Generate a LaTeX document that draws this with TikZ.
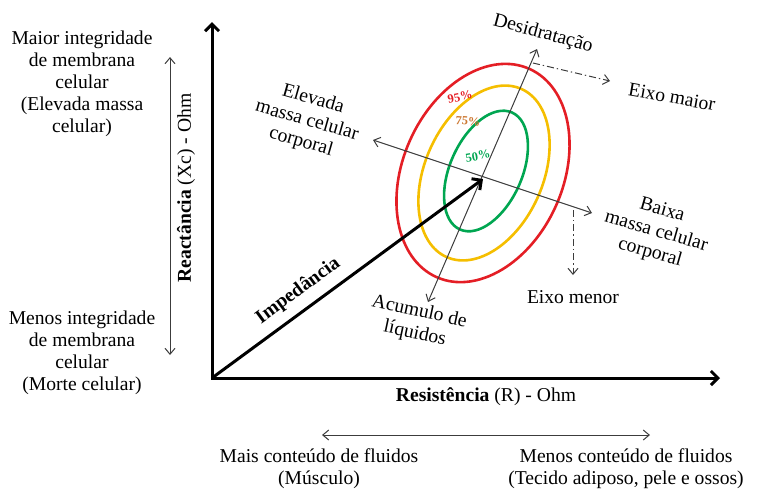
\documentclass[tikz,border=0pt]{standalone}
\usepackage{fontspec}
\setmainfont{Liberation Serif}
\usetikzlibrary{arrows.meta}
\definecolor{ered}{RGB}{228,30,37}
\definecolor{eyel}{RGB}{245,190,0}
\definecolor{egrn}{RGB}{0,166,81}
\definecolor{eorg}{RGB}{204,120,50}
\definecolor{thinc}{RGB}{60,60,60}
\begin{document}
\begin{tikzpicture}[x=0.5pt,y=-0.5pt,
  font=\fontsize{9.8pt}{11pt}\selectfont,
  mainaxis/.style={line width=1.5pt,{Straight Barb[length=3.5pt,width=7pt]}-{Straight Barb[length=3.5pt,width=7pt]}},
  impline/.style={line width=1.5pt,-{Straight Barb[length=3.5pt,width=7pt]}},
  thinline/.style={thinc,line width=0.5pt,{Straight Barb[length=3pt,width=5pt]}-{Straight Barb[length=3pt,width=5pt]}},
  dashdotline/.style={thinc,line width=0.5pt,dash pattern=on 3.5pt off 1.5pt on 0.7pt off 1.5pt,-{Straight Barb[length=3pt,width=5pt]}},
  ell/.style={line width=1.3pt},
  lbl/.style={align=center,inner sep=1pt},
  pct/.style={font=\fontsize{6.2pt}{7pt}\selectfont\bfseries,inner sep=0pt}]
\useasboundingbox (0,0) rectangle (760,489);
% coordinates
\coordinate (O) at (212,378);
\coordinate (Ytip) at (212,22);
\coordinate (Xtip) at (720,378);
\coordinate (C) at (483,179);
\coordinate (MA1) at (537,49);
\coordinate (MA2) at (428,302);
\coordinate (MI1) at (373,140);
\coordinate (MI2) at (592,213);
\coordinate (EM1) at (533,63);
\coordinate (EM2) at (610,81);
\coordinate (EN1) at (573,210);
\coordinate (EN2) at (573,275);
\coordinate (L1) at (170,57);
\coordinate (L2) at (170,355);
\coordinate (B1) at (322,435);
\coordinate (B2) at (650,435);
% ellipses
\draw[ered,ell,rotate around={66:(483,173)}] (483,173) ellipse [x radius=57pt,y radius=40pt];
\draw[eyel,ell,rotate around={66:(484,173)}] (484,173) ellipse [x radius=46pt,y radius=29.5pt];
\draw[egrn,ell,rotate around={66:(486,171)}] (486,171) ellipse [x radius=32pt,y radius=18pt];
% axes
\draw[mainaxis] (Ytip) -- (O) -- (Xtip);
\draw[thinline] (MA2) -- (MA1);
\draw[thinline] (MI1) -- (MI2);
\draw[impline] (O) -- (C) node[pos=.36,sloped,above=1pt,font=\fontsize{9.8pt}{11pt}\selectfont\bfseries] (imp) {Impedância};
\draw[dashdotline] (EM1) -- (EM2);
\draw[dashdotline] (EN1) -- (EN2);
\draw[thinline] (L1) -- (L2);
\draw[thinline] (B1) -- (B2);
% percent labels
\node[pct,text=ered,rotate=12] (p95) at (460,97) {95\%};
\node[pct,text=eorg,rotate=-4] (p75) at (468,121) {75\%};
\node[pct,text=egrn,rotate=10] (p50) at (478,156) {50\%};
% text labels
\node[lbl] (maior) at (82,84) {Maior integridade\\de membrana\\celular\\(Elevada massa\\celular)};
\node[lbl] (menos) at (82,353) {Menos integridade\\de membrana\\celular\\(Morte celular)};
\node[lbl,rotate=90] (ylab) at (186,188) {\textbf{Reactância} (Xc) - Ohm};
\node[lbl] (xlab) at (486,397) {\textbf{Resistência} (R) - Ohm};
\node[lbl] (mais) at (319,469) {Mais conteúdo de fluidos\\(Músculo)};
\node[lbl] (menosf) at (626,469) {Menos conteúdo de fluidos\\(Tecido adiposo, pele e ossos)};
\node[lbl,rotate=-15] (desid) at (543,34) {Desidratação};
\node[lbl,rotate=-10] (emaior) at (672,97) {Eixo maior};
\node[lbl,rotate=-16] (elev) at (307,121) {Elevada\\massa celular\\corporal};
\node[lbl,rotate=-16] (baixa) at (656,232) {Baixa\\massa celular\\corporal};
\node[lbl] (emenor) at (573,297) {Eixo menor};
\node[lbl,rotate=-12] (acum) at (417,323) {Acumulo de\\líquidos};
\end{tikzpicture}
\end{document}
